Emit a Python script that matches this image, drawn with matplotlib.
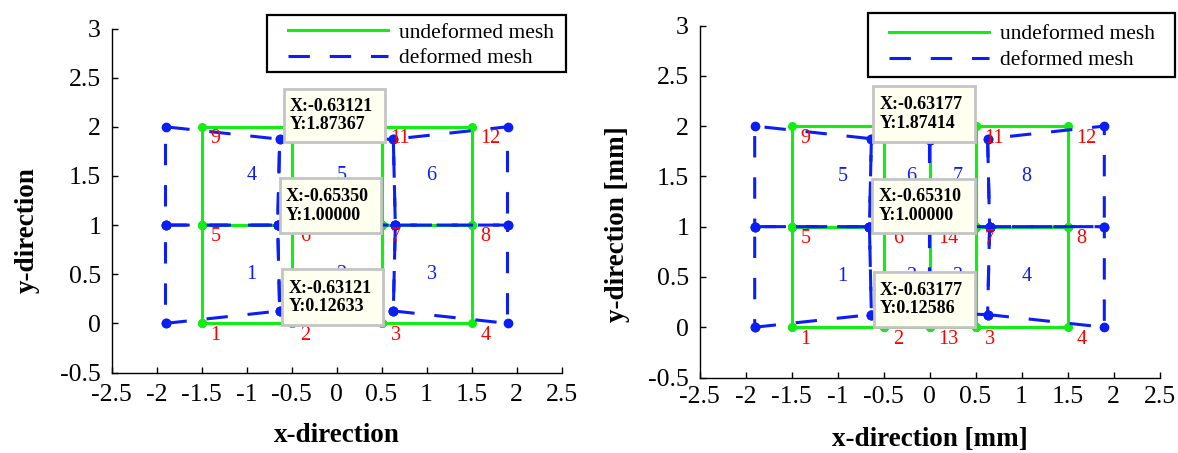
import numpy as np
import matplotlib
matplotlib.use("Agg")
import matplotlib.pyplot as plt
from matplotlib.lines import Line2D
from matplotlib.patches import Rectangle
from matplotlib.ticker import FixedLocator, FormatStrFormatter

plt.rcParams['font.family'] = ['Liberation Serif', 'DejaVu Serif']
plt.rcParams['axes.unicode_minus'] = False

# ---------------- data ----------------
# Left mesh (12 nodes, 6 elements)
undef_x_A = [-1.5, -0.5, 0.5, 1.5, -1.5, -0.5, 0.5, 1.5, -1.5, -0.5, 0.5, 1.5]
undef_y_A = [0, 0, 0, 0, 1, 1, 1, 1, 2, 2, 2, 2]
def_x_A = [-1.9, -0.63121, 0.63121, 1.9, -1.9, -0.65350, 0.65350, 1.9,
           -1.9, -0.63121, 0.63121, 1.9]
def_y_A = [0, 0.12633, 0.12633, 0, 1, 1.0, 1.0, 1, 2, 1.87367, 1.87367, 2]
elems_A = [[1, 2, 6, 5], [2, 3, 7, 6], [3, 4, 8, 7],
           [5, 6, 10, 9], [6, 7, 11, 10], [7, 8, 12, 11]]
tips_A = [10, 6, 2]          # nodes with data tips

# Right mesh (15 nodes, 8 elements)
undef_x_B = [-1.5, -0.5, 0.5, 1.5, -1.5, -0.5, 0.5, 1.5, -1.5, -0.5, 0.5, 1.5, 0, 0, 0]
undef_y_B = [0, 0, 0, 0, 1, 1, 1, 1, 2, 2, 2, 2, 0, 1, 2]
def_x_B = [-1.9, -0.63177, 0.63177, 1.9, -1.9, -0.65310, 0.65310, 1.9,
           -1.9, -0.63177, 0.63177, 1.9, 0, 0, 0]
def_y_B = [0, 0.12586, 0.12586, 0, 1, 1.0, 1.0, 1, 2, 1.87414, 1.87414, 2,
           0.14, 1.0, 1.86]
elems_B = [[1, 2, 6, 5], [2, 13, 14, 6], [13, 3, 7, 14], [3, 4, 8, 7],
           [5, 6, 10, 9], [6, 14, 15, 10], [14, 7, 11, 15], [7, 8, 12, 11]]
tips_B = [10, 6, 2]

x_ticks = [-2.5, -2, -1.5, -1, -0.5, 0, 0.5, 1, 1.5, 2, 2.5]
y_ticks = [-0.5, 0, 0.5, 1, 1.5, 2, 2.5, 3]
legend_labels = ["undeformed mesh", "deformed mesh"]

# ---------------- style / layout ----------------
GREEN = '#11EE11'
BLUE = '#0A1EF5'
RED = '#FF0000'
DASH = (0, (7, 6.5))
LW = 2.2

# data-tip boxes (layout, data coords: x0, y0, x1, y1)
tipbox_A = [(-0.585, 1.847, 0.544, 2.38), (-0.63, 0.916, 0.497, 1.475),
            (-0.604, -0.017, 0.519, 0.549)]
tipbox_B = [(-0.61, 1.84, 0.495, 2.398), (-0.625, 0.936, 0.496, 1.472),
            (-0.607, 0.004, 0.496, 0.546)]

fig = plt.figure(figsize=(11.78, 4.53), dpi=100)
W, H = 1178.0, 453.0
axA = fig.add_axes([111.5 / W, (H - 372.5) / H, 450 / W, 344 / H])
axB = fig.add_axes([699.5 / W, (H - 377.5) / H, 460 / W, 352 / H])


def px_rect(x0, y0, x1, y1):
    return (x0 / W, (H - y1) / H, (x1 - x0) / W, (y1 - y0) / H)


def draw(ax, ux, uy, dx, dy, elems, tips, boxes, xlabel, ylabel,
         ylab_pos, xlab_y, xpad, leg_frame, leg_anchor):
    for e in elems:
        idx = [n - 1 for n in e] + [e[0] - 1]
        ax.plot([ux[i] for i in idx], [uy[i] for i in idx], color=GREEN,
                lw=LW, marker='o', ms=5.5, zorder=2)
    for e in elems:
        idx = [n - 1 for n in e] + [e[0] - 1]
        ax.plot([dx[i] for i in idx], [dy[i] for i in idx], color=BLUE,
                lw=LW, ls=DASH, marker='o', ms=6, zorder=3)
    # element numbers
    for k, e in enumerate(elems):
        cx = np.mean([ux[n - 1] for n in e])
        cy = np.mean([uy[n - 1] for n in e])
        ax.text(cx, cy, str(k + 1), color=BLUE, fontsize=14.5, ha='left',
                va='center', zorder=4)
    # node numbers
    for i in range(len(ux)):
        ax.text(ux[i] + 0.1, uy[i] - 0.12, str(i + 1), color=RED,
                fontsize=14.5, ha='left', va='center', zorder=4)
    # data tips
    for n, (x0, y0, x1, y1) in zip(tips, boxes):
        ax.add_patch(Rectangle((x0, y0), x1 - x0, y1 - y0, facecolor='#FFFFF0',
                               edgecolor='#C4C4C4', lw=2.0, zorder=10))
        ax.text(x0 + 0.07, (y0 + y1) / 2,
                f"X:{dx[n - 1]:.5f}\nY:{dy[n - 1]:.5f}", fontsize=13,
                fontweight='bold', ha='left', va='center', zorder=11,
                linespacing=1.1)
    ax.set_xlim(-2.5, 2.5)
    ax.set_ylim(-0.5, 3)
    ax.xaxis.set_major_locator(FixedLocator(x_ticks))
    ax.yaxis.set_major_locator(FixedLocator(y_ticks))
    ax.xaxis.set_major_formatter(FormatStrFormatter('%g'))
    ax.yaxis.set_major_formatter(FormatStrFormatter('%g'))
    for s in ['top', 'right']:
        ax.spines[s].set_visible(False)
    for s in ['left', 'bottom']:
        ax.spines[s].set_linewidth(1.0)
    ax.tick_params(direction='in', length=4, width=1, labelsize=18.5)
    ax.tick_params(axis='x', pad=xpad)
    ax.tick_params(axis='y', pad=7.5)
    ax.set_xlabel(xlabel, fontsize=19.5, fontweight='bold')
    ax.set_ylabel(ylabel, fontsize=19.5, fontweight='bold')
    ax.yaxis.set_label_coords(*ylab_pos)
    ax.xaxis.set_label_coords(0.5, xlab_y)
    # legend: frame drawn as a figure rectangle, entries via fig.legend
    fig.add_artist(Rectangle(px_rect(*leg_frame)[:2], *px_rect(*leg_frame)[2:],
                             transform=fig.transFigure, facecolor='white',
                             edgecolor='black', lw=1.6, zorder=5))
    handles = [Line2D([], [], color=GREEN, lw=LW),
               Line2D([], [], color=BLUE, lw=LW, ls=DASH)]
    leg = fig.legend(handles, legend_labels, loc='upper left',
                     bbox_to_anchor=(leg_anchor[0] / W, (H - leg_anchor[1]) / H),
                     borderaxespad=0, borderpad=0, frameon=False,
                     handlelength=4.65, handletextpad=0.5, labelspacing=0.26,
                     fontsize=15.5)
    leg.set_zorder(6)


draw(axA, undef_x_A, undef_y_A, def_x_A, def_y_A, elems_A, tips_A, tipbox_A,
     'x-direction', 'y-direction', (-0.159, 0.415), -0.147, 8.3,
     (267, 15, 566, 72), (288, 22.7))
draw(axB, undef_x_B, undef_y_B, def_x_B, def_y_B, elems_B, tips_B, tipbox_B,
     'x-direction [mm]', 'y-direction [mm]', (-0.152, 0.437), -0.14, 6.2,
     (868, 13, 1175, 77), (889, 24.3))

fig.savefig('out.png', dpi=100)
